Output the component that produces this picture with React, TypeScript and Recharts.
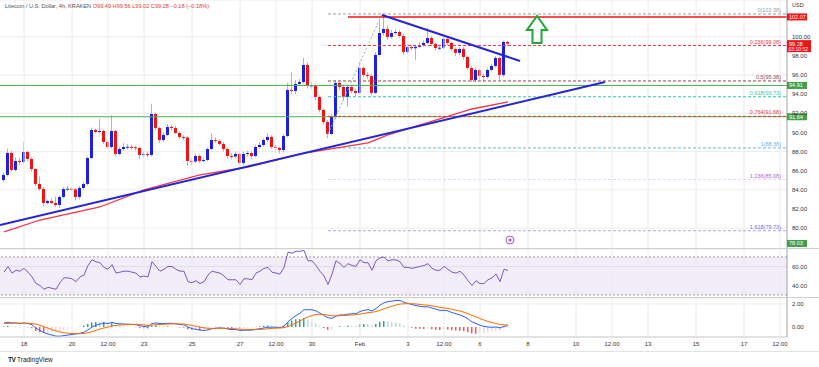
import React from 'react'
import { Bar, CartesianGrid, Cell, ComposedChart, Line, ReferenceArea, ReferenceDot, ReferenceLine, XAxis, YAxis } from 'recharts'

// 4h candles, first one is Jan 17 04:00
const firstOpen = 85.03
const closes = [
	85.56, 87.86, 86.08, 87.02, 86.91, 87.96, 87.23, 86.18, 84.62, 84.09,
	82.63, 82.84, 82.63, 82.42, 83.26, 84.09, 84.12, 84.05, 83.26, 84.2,
	84.62, 87.33, 90.26, 90.05, 90.15, 89.0, 88.48, 90.15, 87.75, 88.27,
	88.48, 88.5, 88.45, 88.38, 87.65, 87.75, 87.65, 91.93, 90.47, 89.21,
	89.74, 90.57, 90.47, 89.95, 89.53, 89.48, 87.02, 86.97, 87.54, 87.02,
	87.12, 88.27, 89.21, 89.11, 88.8, 88.27, 87.54, 87.49, 87.75, 86.81,
	87.75, 87.85, 87.54, 88.48, 88.69, 89.21, 89.53, 88.48, 88.38, 88.17,
	89.63, 94.44, 94.33, 95.07, 95.27, 97.05, 94.86, 94.9, 93.71, 92.35,
	91.09, 89.84, 91.62, 95.17, 94.75, 93.71, 94.75, 94.33, 94.13, 96.74,
	96.01, 95.9, 94.13, 98.1, 100.39, 100.81, 99.98, 100.39, 100.5, 100.08,
	98.41, 98.93, 98.8, 98.95, 99.14, 99.35, 99.87, 99.25, 98.83, 98.85,
	99.77, 99.35, 98.72, 98.31, 98.72, 97.89, 96.74, 95.48, 96.53, 95.9,
	95.8, 96.53, 96.95, 97.78, 96.01, 99.46, 99.28,
]
const highs = [
	85.8, 88.3, 88.1, 87.4, 87.3, 89.0, 88.1, 87.4, 86.3, 85.4,
	84.3, 83.0, 83.1, 83.3, 83.4, 84.3, 84.4, 84.3, 84.2, 84.4,
	84.8, 87.5, 90.5, 90.4, 91.4, 90.3, 89.2, 91.8, 90.3, 88.5,
	88.9, 88.8, 88.7, 88.6, 88.5, 88.0, 88.0, 93.0, 92.1, 90.6,
	90.0, 90.9, 90.8, 90.7, 90.1, 89.7, 89.6, 87.3, 87.8, 87.7,
	87.4, 88.4, 89.9, 89.5, 89.3, 89.0, 88.4, 87.8, 88.0, 87.9,
	88.0, 88.1, 88.0, 88.7, 89.0, 89.4, 89.9, 89.7, 88.7, 88.5,
	89.8, 95.2, 96.3, 95.5, 95.6, 97.8, 97.3, 95.3, 95.1, 93.9,
	92.5, 91.3, 91.9, 95.5, 95.4, 95.0, 95.0, 95.0, 94.6, 97.4,
	96.9, 96.3, 96.1, 98.4, 101.8, 102.38, 101.2, 100.7, 100.8, 100.7,
	100.3, 99.2, 99.1, 99.2, 99.4, 99.6, 100.9, 100.1, 99.4, 99.1,
	100.0, 99.9, 99.5, 98.9, 98.9, 98.9, 98.0, 96.9, 96.8, 96.7,
	96.1, 96.7, 97.2, 98.0, 97.9, 99.6, 99.56,
]
const lows = [
	84.8, 85.4, 85.9, 85.9, 86.6, 86.7, 87.0, 85.9, 84.4, 83.9,
	82.3, 82.5, 82.5, 82.2, 82.1, 83.1, 83.9, 83.9, 82.9, 83.0,
	84.0, 84.5, 87.2, 89.9, 89.9, 88.8, 88.3, 88.3, 87.5, 87.6,
	88.1, 88.2, 88.2, 88.1, 87.2, 87.4, 87.4, 87.5, 90.2, 88.9,
	89.0, 89.6, 90.2, 89.8, 89.3, 89.2, 86.5, 86.6, 86.8, 86.8,
	86.9, 87.0, 88.1, 88.9, 88.6, 88.0, 87.3, 87.2, 87.3, 86.6,
	86.6, 87.5, 87.2, 87.4, 88.3, 88.5, 89.0, 88.3, 88.1, 87.8,
	87.9, 89.5, 94.0, 94.0, 94.9, 95.1, 94.6, 94.5, 93.4, 92.1,
	90.8, 89.4, 89.7, 91.4, 94.4, 93.4, 92.7, 94.1, 93.8, 94.0,
	95.8, 95.6, 93.9, 94.0, 97.9, 100.1, 99.7, 99.8, 100.2, 99.9,
	98.1, 98.2, 98.6, 97.6, 98.8, 99.0, 99.2, 99.0, 98.6, 98.6,
	98.7, 99.1, 98.5, 98.0, 98.1, 97.6, 96.5, 95.3, 95.3, 95.4,
	95.3, 95.6, 96.4, 96.8, 95.5, 95.8, 99.02,
]

// 100 SMA (red), read at a few candles
const maIdx = [0, 9, 24, 35, 49, 61, 74, 91, 96, 117, 126]
const maVals = [79.6, 80.85, 82.21, 83.99, 85.56, 86.39, 87.75, 88.9, 89.74, 92.45, 93.19]

const rsi = [
	54, 60, 53, 56, 55, 58, 54, 49, 42, 40,
	36, 38, 37, 36, 43, 48, 48, 47, 44, 49,
	51, 61, 67, 65, 64, 59, 57, 62, 53, 54,
	55, 55, 54, 53, 49, 50, 49, 65, 60, 55,
	57, 60, 60, 57, 55, 55, 44, 43, 45, 42,
	44, 51, 55, 54, 53, 50, 46, 46, 46, 41,
	47, 47, 46, 53, 55, 58, 59, 54, 53, 52,
	59, 75, 74, 76, 76, 77, 66, 66, 61, 55,
	50, 41, 52, 66, 63, 59, 63, 61, 60, 67,
	64, 64, 56, 66, 69, 70, 66, 67, 67, 65,
	59, 59, 58, 59, 60, 61, 63, 58, 56, 56,
	60, 57, 54, 53, 55, 51, 45, 40, 45, 42,
	42, 46, 48, 52, 44, 57, 56,
]
const macd = [
	0.35, 0.4, 0.35, 0.35, 0.3, 0.35, 0.3, 0.2, -0.1, -0.3, -0.5, -0.6, -0.7,
	-0.8, -0.8, -0.75, -0.7, -0.65, -0.6, -0.55, -0.45, -0.25, 0.0, 0.15, 0.25,
	0.35, 0.3, 0.4, 0.3, 0.28, 0.26, 0.24, 0.22, 0.2, 0.1, 0.05, 0.0,
	0.3, 0.35, 0.3, 0.3, 0.32, 0.32, 0.28, 0.22, 0.18, 0.0, -0.15, -0.2,
	-0.28, -0.3, -0.25, -0.15, -0.1, -0.08, -0.1, -0.18, -0.22, -0.22, -0.3, -0.28,
	-0.27, -0.27, -0.2, -0.15, -0.08, -0.02, -0.02, -0.02, -0.05, 0.05, 0.45, 0.75,
	1.0, 1.2, 1.5, 1.5, 1.5, 1.4, 1.2, 1.0, 0.8, 0.75, 0.95, 1.05,
	1.05, 1.12, 1.15, 1.15, 1.35, 1.45, 1.5, 1.4, 1.6, 1.9, 2.1, 2.2,
	2.25, 2.3, 2.3, 2.15, 2.05, 1.95, 1.85, 1.8, 1.75, 1.75, 1.65, 1.55,
	1.45, 1.45, 1.4, 1.25, 1.15, 1.05, 0.9, 0.7, 0.45, 0.3, 0.15, 0.05,
	0.0, -0.02, 0.0, -0.08, 0.05, 0.12,
]
const signal = [
	0.3, 0.32, 0.33, 0.33, 0.33, 0.33, 0.33, 0.3, 0.25, 0.15, 0.03, -0.1, -0.22,
	-0.34, -0.43, -0.5, -0.54, -0.57, -0.58, -0.58, -0.56, -0.5, -0.4, -0.29, -0.18,
	-0.08, 0.0, 0.08, 0.13, 0.17, 0.2, 0.22, 0.23, 0.23, 0.21, 0.18, 0.14,
	0.17, 0.2, 0.22, 0.24, 0.25, 0.27, 0.27, 0.26, 0.25, 0.2, 0.13, 0.06,
	-0.01, -0.07, -0.11, -0.12, -0.12, -0.11, -0.11, -0.12, -0.14, -0.16, -0.19, -0.21,
	-0.22, -0.23, -0.23, -0.21, -0.19, -0.15, -0.12, -0.1, -0.09, -0.06, 0.04, 0.18,
	0.35, 0.52, 0.72, 0.87, 1.0, 1.08, 1.1, 1.08, 1.03, 0.97, 0.97, 0.98,
	1.0, 1.02, 1.05, 1.07, 1.12, 1.18, 1.25, 1.28, 1.34, 1.45, 1.58, 1.7,
	1.81, 1.91, 1.99, 2.02, 2.03, 2.02, 2.0, 1.96, 1.92, 1.89, 1.84, 1.78,
	1.71, 1.66, 1.61, 1.54, 1.46, 1.38, 1.28, 1.16, 1.02, 0.88, 0.73, 0.6,
	0.48, 0.38, 0.3, 0.22, 0.19, 0.17,
]

const tickIdx = [5, 17, 26, 35, 47, 59, 68, 77, 89, 101, 110, 119, 131, 143, 152, 161, 173, 185, 194]
const tickLabels = ['18', '20', '12:00', '23', '25', '27', '12:00', '30', 'Feb', '3', '12:00', '6', '8', '10', '12:00', '13', '15', '17', '12:00']
const priceTicks = [80, 82, 84, 86, 88, 90, 92, 94, 96, 98, 100]

const fibNames = ['0', '0.236', '0.5', '0.618', '0.764', '1', '1.236', '1.618']
const fibPrices = [102.38, 99.08, 95.38, 93.73, 91.68, 88.38, 85.08, 79.73]
const fibColors = ['#9e9e9e', '#f23645', '#a0434d', '#35c9a6', '#e53935', '#64b5f6', '#b65be6', '#6c6ff0']
const fibLineOpacity = [1, 1, 1, 1, 1, 1, 0.25, 0.6]

const XDOM: [number, number] = [-1, 195.75]
const FONT = '"Liberation Sans", Arial, sans-serif'

const rows = closes.map((c, i) => {
	const o = i === 0 ? firstOpen : closes[i - 1]
	const hist = macd[i] - signal[i]
	const prevHist = i === 0 ? hist : macd[i - 1] - signal[i - 1]
	const k = maIdx.indexOf(i)
	return {
		i,
		o,
		c,
		h: highs[i],
		l: lows[i],
		range: [lows[i], highs[i]],
		ma: k >= 0 ? maVals[k] : null,
		rsi: rsi[i],
		macd: macd[i],
		signal: signal[i],
		hist,
		histColor: hist >= 0 ? (hist >= prevHist ? '#26a69a' : '#b2dfdb') : hist < prevHist ? '#ff5252' : '#ffcdd2',
	}
})

const Candle = (props: any) => {
	const { x, y, width, height, payload } = props
	const { o, c, h, l } = payload
	const k = height / (h - l)
	const top = y + (h - Math.max(o, c)) * k
	const bot = y + (h - Math.min(o, c)) * k
	const cx = x + width / 2
	return (
		<g>
			<line x1={cx} x2={cx} y1={y} y2={y + height} stroke="#b4b4b4" strokeWidth={1} />
			<rect x={x} y={top} width={width} height={Math.max(1, bot - top)} fill={c >= o ? '#1f1fe0' : '#f01414'} />
		</g>
	)
}

const axisTag = (text: string, bg: string, sub?: string) => (p: any) => (
	<g>
		<rect x={p.cx} y={p.cy - 3.5} width={sub ? 24 : 20} height={sub ? 12 : 7} fill={bg} />
		<text x={p.cx + 2} y={p.cy + 2} fontSize={5.5} fill="#fff" fontFamily={FONT}>{text}</text>
		{sub && <text x={p.cx + 1.5} y={p.cy + 7.5} fontSize={5} fill="#fff" fontFamily={FONT}>{sub}</text>}
	</g>
)

const fibLabel = (text: string, color: string) => (p: any) => (
	<text x={p.cx} y={p.cy - 2} fontSize={5.5} fill={color} textAnchor="end" fontFamily={FONT}>{text}</text>
)

const UpArrow = (p: any) => {
	const { cx, cy } = p
	const d = `M ${cx} ${cy - 14} L ${cx + 10} ${cy} L ${cx + 4.5} ${cy} L ${cx + 4.5} ${cy + 13} L ${cx - 4.5} ${cy + 13} L ${cx - 4.5} ${cy} L ${cx - 10} ${cy} Z`
	return <path d={d} fill="#fff" stroke="#1ea83a" strokeWidth={2} />
}

const EventIcon = (p: any) => (
	<g>
		<circle cx={p.cx} cy={p.cy} r={4} fill="#fff" stroke="#b04fd8" strokeWidth={1} />
		<circle cx={p.cx} cy={p.cy} r={1.5} fill="#b04fd8" />
	</g>
)

const vGrid = tickIdx.map((t) => <ReferenceLine key={`g${t}`} x={t} stroke="#ececec" />)

const axisTick = { fontSize: 6, fill: '#333', fontFamily: FONT }

const App = () => {
	return (
		<div style={{ position: 'fixed', left: 0, top: 0, width: 819, height: 367, background: '#fff', fontFamily: FONT }}>
			<div style={{ position: 'absolute', left: 5, top: 3, fontSize: 5.6, color: '#555', whiteSpace: 'nowrap', zIndex: 2 }}>
				Litecoin / U.S. Dollar, 4h, KRAKEN{'  '}
				<span style={{ color: '#e53935' }}> O99.49 H99.56 L99.02 C99.28 −0.18 (−0.18%)</span>
			</div>

			{/* price pane */}
			<div style={{ position: 'absolute', left: 0, top: 0 }}>
				<ComposedChart width={819} height={249} data={rows} margin={{ top: 0, right: 0, bottom: 0, left: 0 }}>
					<CartesianGrid vertical={false} stroke="#ececec" />
					{vGrid}
					<XAxis type="number" dataKey="i" domain={XDOM} ticks={tickIdx} hide allowDataOverflow />
					<YAxis
						orientation="right"
						width={32}
						domain={[77.82, 103.84]}
						ticks={priceTicks}
						allowDataOverflow
						tickFormatter={(v) => v.toFixed(2)}
						tick={axisTick}
						tickLine={false}
						tickSize={3}
						axisLine={{ stroke: '#a0a0a0' }}
					/>
					<ReferenceLine y={94.91} stroke="#4caf50" strokeWidth={1} />
					<ReferenceLine y={91.64} stroke="#4caf50" strokeWidth={1} />
					{fibPrices.map((p, k) => (
						<ReferenceLine
							key={`f${k}`}
							segment={[{ x: 81, y: p }, { x: XDOM[1], y: p }]}
							stroke={fibColors[k]}
							strokeOpacity={fibLineOpacity[k]}
							strokeDasharray="3 2"
						/>
					))}
					<ReferenceLine segment={[{ x: 81, y: 89.84 }, { x: 94.5, y: 102.38 }]} stroke="#a8a8a8" strokeDasharray="2 2" />
					<ReferenceLine segment={[{ x: 86, y: 102.07 }, { x: XDOM[1], y: 102.07 }]} stroke="#f01414" strokeWidth={1.5} />
					<Bar dataKey="range" barSize={3} shape={Candle} isAnimationActive={false} />
					<Line dataKey="ma" stroke="#f23645" strokeWidth={1.3} dot={false} activeDot={false} connectNulls isAnimationActive={false} />
					<ReferenceLine segment={[{ x: -1, y: 80.33 }, { x: 150.25, y: 95.27 }]} stroke="#2424d8" strokeWidth={2} />
					<ReferenceLine segment={[{ x: 94.5, y: 102.28 }, { x: 129, y: 97.47 }]} stroke="#2424d8" strokeWidth={2} />
					{fibPrices.map((p, k) => (
						<ReferenceDot key={`fl${k}`} x={194.25} y={p} r={0} shape={fibLabel(`${fibNames[k]}(${p.toFixed(2)})`, fibColors[k])} />
					))}
					<ReferenceDot x={133.25} y={100.71} r={0} shape={UpArrow} />
					<ReferenceDot x={126.5} y={78.76} r={0} shape={EventIcon} />
					<ReferenceDot x={XDOM[1]} y={102.07} r={0} ifOverflow="visible" shape={axisTag('102.07', '#f01414')} />
					<ReferenceDot x={XDOM[1]} y={99.28} r={0} ifOverflow="visible" shape={axisTag('99.28', '#f01414', '03:10:52')} />
					<ReferenceDot x={XDOM[1]} y={94.91} r={0} ifOverflow="visible" shape={axisTag('94.91', '#43a047')} />
					<ReferenceDot x={XDOM[1]} y={91.64} r={0} ifOverflow="visible" shape={axisTag('91.64', '#43a047')} />
					<ReferenceDot x={XDOM[1]} y={78.4} r={0} ifOverflow="visible" shape={axisTag('78.03', '#43a047')} />
				</ComposedChart>
				<div style={{ position: 'absolute', left: 792, top: 2, fontSize: 5.5, color: '#333' }}>USD</div>
			</div>

			<div style={{ position: 'absolute', left: 0, top: 248, width: 819, height: 1, background: '#cfcfcf' }} />

			{/* RSI pane */}
			<div style={{ position: 'absolute', left: 0, top: 249 }}>
				<ComposedChart width={819} height={49} data={rows} margin={{ top: 0, right: 0, bottom: 0, left: 0 }}>
					<CartesianGrid vertical={false} stroke="#ececec" />
					{vGrid}
					<XAxis type="number" dataKey="i" domain={XDOM} ticks={tickIdx} hide allowDataOverflow />
					<YAxis
						orientation="right"
						width={32}
						domain={[26.8, 78.4]}
						ticks={[40, 60]}
						allowDataOverflow
						tickFormatter={(v) => v.toFixed(2)}
						tick={axisTick}
						tickLine={false}
						tickSize={3}
						axisLine={{ stroke: '#a0a0a0' }}
					/>
					<ReferenceArea y1={30} y2={70} fill="#7e57c2" fillOpacity={0.1} strokeOpacity={0} />
					<ReferenceLine y={70} stroke="#9e9e9e" strokeDasharray="2 2" />
					<ReferenceLine y={30} stroke="#9e9e9e" strokeDasharray="2 2" />
					<Line dataKey="rsi" stroke="#7e57c2" strokeWidth={1} dot={false} activeDot={false} isAnimationActive={false} />
				</ComposedChart>
			</div>

			<div style={{ position: 'absolute', left: 0, top: 297, width: 819, height: 1, background: '#cfcfcf' }} />

			{/* MACD pane + time axis */}
			<div style={{ position: 'absolute', left: 0, top: 298 }}>
				<ComposedChart width={819} height={54} data={rows} margin={{ top: 0, right: 0, bottom: 0, left: 0 }}>
					<CartesianGrid vertical={false} stroke="#ececec" />
					{vGrid}
					<XAxis
						type="number"
						dataKey="i"
						domain={XDOM}
						ticks={tickIdx}
						allowDataOverflow
						height={15}
						tickFormatter={(v) => tickLabels[tickIdx.indexOf(v)] ?? ''}
						tick={axisTick}
						tickLine={false}
						tickSize={3}
						axisLine={{ stroke: '#cfcfcf' }}
					/>
					<YAxis
						orientation="right"
						width={32}
						domain={[-0.87, 2.52]}
						ticks={[0, 2]}
						allowDataOverflow
						tickFormatter={(v) => v.toFixed(2)}
						tick={axisTick}
						tickLine={false}
						tickSize={3}
						axisLine={{ stroke: '#a0a0a0' }}
					/>
					<Bar dataKey="hist" barSize={1.5} isAnimationActive={false}>
						{rows.map((r) => (
							<Cell key={r.i} fill={r.histColor} />
						))}
					</Bar>
					<Line dataKey="macd" stroke="#2962ff" strokeWidth={1} dot={false} activeDot={false} isAnimationActive={false} />
					<Line dataKey="signal" stroke="#ff6d00" strokeWidth={1} dot={false} activeDot={false} isAnimationActive={false} />
				</ComposedChart>
			</div>

			<div style={{ position: 'absolute', left: 0, top: 351, width: 819, height: 1, background: '#e3e3e3' }} />
			<div style={{ position: 'absolute', left: 8, top: 356, fontSize: 6.5, color: '#131722', whiteSpace: 'nowrap' }}>
				<b style={{ letterSpacing: -0.5 }}>TV</b> TradingView
			</div>
		</div>
	)
}

export default App
